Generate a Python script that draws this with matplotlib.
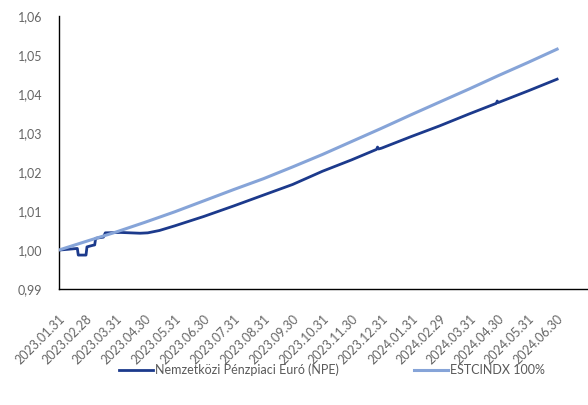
import numpy as np
import matplotlib
matplotlib.use('Agg')
import matplotlib.pyplot as plt
import pandas as pd

plt.rcParams['font.family'] = ['Lato', 'DejaVu Sans']

# month-end labels on the x axis
tick_labels = ['2023.01.31', '2023.02.28', '2023.03.31', '2023.04.30', '2023.05.31',
               '2023.06.30', '2023.07.31', '2023.08.31', '2023.09.30', '2023.10.31',
               '2023.11.30', '2023.12.31', '2024.01.31', '2024.02.29', '2024.03.31',
               '2024.04.30', '2024.05.31', '2024.06.30']

# ESTCINDX 100% - month-end values
estr_dates = tick_labels
estr_values = [1.0000, 1.0022, 1.0046, 1.0071, 1.0098, 1.0126, 1.0155, 1.0183, 1.0213,
               1.0245, 1.0278, 1.0312, 1.0347, 1.0379, 1.0413, 1.0447, 1.0481, 1.0515]

# Nemzetkozi Penzpiaci Euro (NPE)
npe_dates = ['2023.01.31', '2023.02.01', '2023.02.19', '2023.02.20', '2023.02.28',
             '2023.03.01', '2023.03.07', '2023.03.09', '2023.03.10', '2023.03.18',
             '2023.03.20', '2023.04.05', '2023.04.25', '2023.05.03', '2023.05.15',
             '2023.05.31', '2023.06.30', '2023.07.31', '2023.08.31', '2023.09.30',
             '2023.10.31', '2023.11.30', '2023.12.26', '2023.12.27', '2023.12.28',
             '2023.12.31', '2024.01.31', '2024.02.29', '2024.03.31', '2024.04.28',
             '2024.04.29', '2024.04.30', '2024.05.31', '2024.06.30']
npe_values = [1.0000, 1.0000, 1.0004, 0.9987, 0.9987,
              1.0008, 1.0012, 1.0013, 1.0030, 1.0033,
              1.0044, 1.0045, 1.0043, 1.0044, 1.0050,
              1.0062, 1.0086, 1.0113, 1.0141, 1.0168,
              1.0202, 1.0231, 1.0258, 1.0264, 1.0259,
              1.0261, 1.0291, 1.0318, 1.0349, 1.0376,
              1.0382, 1.0378, 1.0408, 1.0438]

y_ticks = [0.99, 1.00, 1.01, 1.02, 1.03, 1.04, 1.05, 1.06]
y_labels = ['0,99', '1,00', '1,01', '1,02', '1,03', '1,04', '1,05', '1,06']

to_dt = lambda s: pd.to_datetime(s, format='%Y.%m.%d')

fig = plt.figure(figsize=(5.88, 4.05), dpi=100)
ax = fig.add_axes([0.1003, 0.2864, 0.8997, 0.6741])

ax.plot(to_dt(npe_dates), npe_values, color='#1c3a8c', lw=2.0,
        label='Nemzetközi Pénzpiaci Euró (NPE)', zorder=2)
ax.plot(to_dt(estr_dates), estr_values, color='#86a4d8', lw=2.2,
        label='ESTCINDX 100%', zorder=3)

ax.set_ylim(0.99, 1.06)
ax.set_yticks(y_ticks)
ax.set_yticklabels(y_labels)
ax.set_xlim(to_dt('2023.01.31'), to_dt('2024.08.01'))
ax.set_xticks(to_dt(tick_labels))
ax.set_xticklabels(tick_labels, rotation=45, ha='right', va='top', rotation_mode='anchor')

ax.tick_params(axis='both', length=0, colors='#666666', labelsize=9)
ax.tick_params(axis='x', pad=17)
ax.tick_params(axis='y', pad=12)
for s in ['top', 'right']:
    ax.spines[s].set_visible(False)
for s in ['left', 'bottom']:
    ax.spines[s].set_color('#000000')
    ax.spines[s].set_linewidth(1.0)

leg = fig.legend(loc='center', bbox_to_anchor=(0.565, 0.0864), ncol=2, frameon=False,
                 fontsize=9, handlelength=2.7, handletextpad=0.2, columnspacing=6.0)
for t in leg.get_texts():
    t.set_color('#595959')

fig.savefig('out.png', dpi=100)
